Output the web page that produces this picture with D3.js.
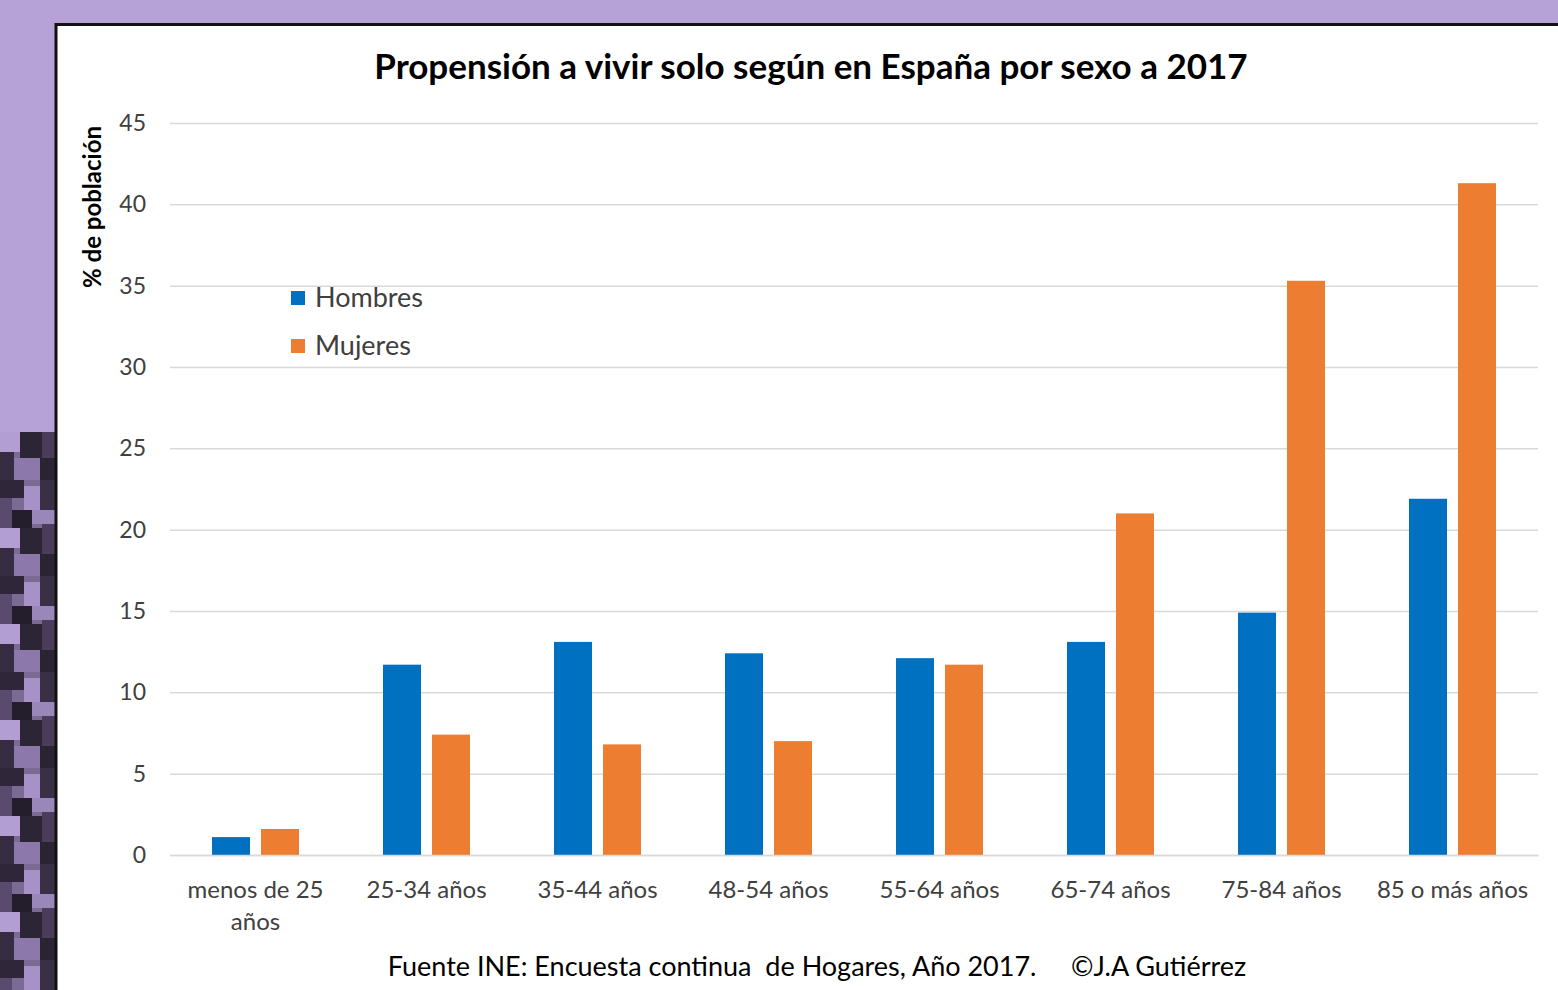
<!DOCTYPE html>
<html>
<head>
<meta charset="utf-8">
<script src="https://cdn.jsdelivr.net/npm/d3@7"></script>
<style>
  body { margin: 0; background: #b6a2d6; overflow: hidden; }
  text { font-family: Lato, "Open Sans", sans-serif; }
</style>
</head>
<body>
<div id="chart"></div>
<script>
// chart values
var categories = ["menos de 25 años", "25-34 años", "35-44 años", "48-54 años",
                  "55-64 años", "65-74 años", "75-84 años", "85 o más años"];
var series = ["Hombres", "Mujeres"];
var hombres = [1.1, 11.7, 13.1, 12.4, 12.1, 13.1, 14.9, 21.9];
var mujeres = [1.6, 7.4, 6.8, 7.0, 11.7, 21.0, 35.3, 41.3];
var yTicks = [0, 5, 10, 15, 20, 25, 30, 35, 40, 45];
var colors = ["#0070c0", "#ed7d31"];

var titleText = "Propensión a vivir solo según en España por sexo a 2017";
var yLabel = "% de población";
var sourceText = "Fuente INE: Encuesta continua  de Hogares, Año 2017.     ©J.A Gutiérrez";

(function drawChart () {
	var W = 1558, H = 990;
	var margin = {top: 123, right: 20, bottom: 135, left: 170};
	var w = W - margin.left - margin.right,  // plot width
		h = H - margin.top - margin.bottom;

	var svg = d3.select("#chart").append("svg")
		.attr("width", W)
		.attr("height", H);

	// purple backdrop, darker blotchy strip on the lower left
	var defs = svg.append("defs");
	var pat = defs.append("pattern")
		.attr("id", "mottle").attr("patternUnits", "userSpaceOnUse")
		.attr("width", 56).attr("height", 96);
	pat.append("rect").attr("width", 56).attr("height", 96).attr("fill", "#7a6a94");
	// hand placed blotches
	[[0, 0, 24, 18, "#2f2739"], [24, 6, 16, 24, "#a692c6"], [40, 0, 16, 30, "#3a3046"],
	 [0, 18, 12, 30, "#5a4b6e"], [12, 30, 20, 18, "#241e2c"], [32, 30, 24, 14, "#9a86b8"],
	 [0, 48, 20, 20, "#b29ed2"], [20, 48, 22, 26, "#2c2535"], [42, 44, 14, 30, "#4a3d5c"],
	 [0, 68, 14, 28, "#362d42"], [14, 74, 26, 22, "#8c78aa"], [40, 74, 16, 22, "#2a2332"]]
		.forEach(function (b) {
			pat.append("rect").attr("x", b[0]).attr("y", b[1])
				.attr("width", b[2]).attr("height", b[3]).attr("fill", b[4]);
		});
	svg.append("rect").attr("width", W).attr("height", H).attr("fill", "#b6a2d6");
	svg.append("rect").attr("x", 0).attr("y", 432).attr("width", 56).attr("height", H - 432)
		.attr("fill", "url(#mottle)");

	// white panel with black edge
	svg.append("rect")
		.attr("x", 56).attr("y", 24.5)
		.attr("width", W).attr("height", H)
		.attr("fill", "#fff")
		.attr("stroke", "#111").attr("stroke-width", 3);

	var g = svg.append("g")
		.attr("transform", "translate(" + margin.left + "," + margin.top + ")");

	var x0 = d3.scaleBand().domain(categories).range([0, w]).paddingInner(0).paddingOuter(0);
	var x1 = d3.scaleBand().domain(series).range([42, x0.bandwidth() - 42]).paddingInner(0.2245);
	var y = d3.scaleLinear().domain([0, 45]).range([h, 0]);

	// gridlines
	g.append("g")
		.attr("class", "grid")
		.call(d3.axisLeft(y).tickValues(yTicks).tickSize(-w).tickFormat(""))
		.call(function (s) { s.select(".domain").remove(); })
		.selectAll("line")
			.attr("stroke", "#d9d9d9").attr("stroke-width", 1.5);

	// y axis labels
	g.append("g")
		.call(d3.axisLeft(y).tickValues(yTicks).tickSize(0).tickPadding(24))
		.call(function (s) { s.select(".domain").remove(); })
		.selectAll("text")
			.attr("font-size", 23).attr("fill", "#404040")
			.style("font-family", "Lato, sans-serif");

	// bars
	var rows = categories.map(function (c, i) {
		return {cat: c, vals: [hombres[i], mujeres[i]]};
	});
	var grp = g.selectAll("g.cat")
		.data(rows).enter().append("g")
		.attr("class", "cat")
		.attr("transform", function (d) { return "translate(" + x0(d.cat) + ",0)"; });
	grp.selectAll("rect")
		.data(function (d) { return d.vals; })
		.enter().append("rect")
		.attr("x", function (d, i) { return x1(series[i]); })
		.attr("y", function (d) { return y(d); })
		.attr("width", x1.bandwidth())
		.attr("height", function (d) { return h - y(d); })
		.attr("fill", function (d, i) { return colors[i]; });

	// x axis labels (wrapped like the original)
	var xa = g.append("g")
		.attr("transform", "translate(0," + h + ")")
		.call(d3.axisBottom(x0).tickSize(0).tickPadding(0));
	xa.select(".domain").attr("stroke", "#d9d9d9").attr("stroke-width", 1.5);
	xa.selectAll("text").each(function (d) {
		var t = d3.select(this).text("")
			.attr("font-size", 24).attr("fill", "#404040")
			.style("font-family", "Lato, sans-serif")
			.attr("y", 43).attr("dy", 0);
		var lines = d === "menos de 25 años" ? ["menos de 25", "años"] : [d];
		lines.forEach(function (ln, k) {
			t.append("tspan").attr("x", 0).attr("dy", k === 0 ? 0 : 32).text(ln);
		});
	});

	// legend
	var lg = svg.append("g").attr("transform", "translate(291,298)");
	series.forEach(function (s, i) {
		var row = lg.append("g").attr("transform", "translate(0," + (i * 48) + ")");
		row.append("rect").attr("x", 0).attr("y", -7).attr("width", 14).attr("height", 14)
			.attr("fill", colors[i]);
		row.append("text").attr("x", 24).attr("y", 0).attr("dy", "0.35em")
			.attr("font-size", 27).attr("fill", "#404040").text(s);
	});

	// title
	svg.append("text")
		.attr("x", 811).attr("y", 79)
		.attr("text-anchor", "middle")
		.attr("font-size", 35).attr("font-weight", "bold").attr("fill", "#000")
		.text(titleText);

	// y axis title
	svg.append("text")
		.attr("transform", "translate(101,207) rotate(-90)")
		.attr("text-anchor", "middle")
		.attr("font-size", 24).attr("font-weight", "bold").attr("fill", "#000")
		.text(yLabel);

	// source note
	svg.append("text")
		.attr("x", 817).attr("y", 976)
		.attr("text-anchor", "middle")
		.attr("font-size", 27).attr("fill", "#000")
		.style("white-space", "pre")
		.text(sourceText);
})();
</script>
</body>
</html>
